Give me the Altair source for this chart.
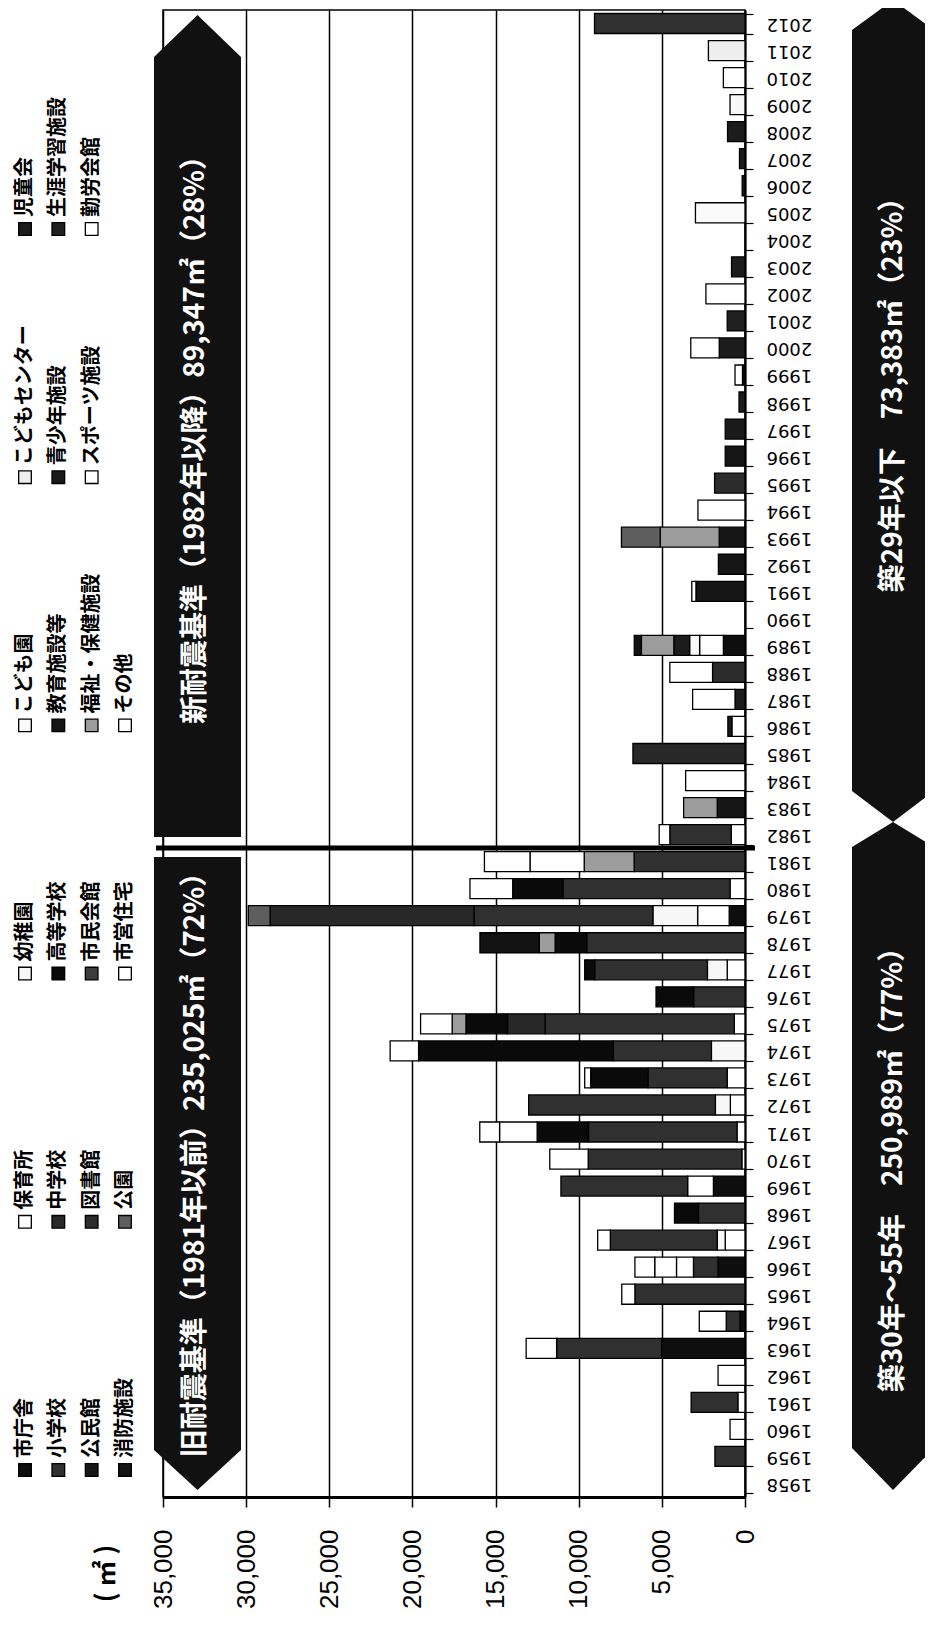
import altair as alt
import pandas as pd

# ---------------- data ----------------
years = list(range(1958, 2013))

categories = ["市庁舎", "保育所", "幼稚園", "こども園", "こどもセンター", "児童会",
              "小学校", "中学校", "高等学校", "教育施設等", "青少年施設", "生涯学習施設",
              "公民館", "図書館", "市民会館", "福祉・保健施設", "スポーツ施設", "勤労会館",
              "消防施設", "公園", "市営住宅", "その他"]
colors = ["#0e0e0e", "#ffffff", "#f7f7f7", "#fafafa", "#eeeeee", "#1c1c1c",
          "#303030", "#282828", "#0a0a0a", "#151515", "#1a1a1a", "#202020",
          "#161616", "#2c2c2c", "#3c3c3c", "#9c9c9c", "#ffffff", "#ffffff",
          "#121212", "#5e5e5e", "#ffffff", "#ffffff"]

# floor area (m2) by construction year, per facility type
shichosha = {1963: 5020, 1964: 300, 1966: 1620, 1969: 1900, 1979: 950, 1989: 1300, 1999: 150}
hoikusho = {1960: 900, 1961: 430, 1962: 1620, 1967: 1190, 1969: 1550, 1970: 190, 1971: 480,
            1972: 880, 1973: 1070, 1975: 640, 1977: 1070, 1979: 1900, 1980: 900, 1982: 830,
            1986: 790, 1989: 1430, 1999: 450, 2002: 2350, 2010: 1300}
yochien = {1967: 480, 1972: 900, 1974: 2020, 1977: 1190, 1979: 2690, 2009: 900}
kodomoen = {1989: 600, 2005: 2980}
kodomo_center = {2011: 2200}
jidokai = {1986: 240, 1987: 600, 1989: 950, 1998: 360, 2000: 1550, 2003: 810, 2007: 330, 2008: 1050}
shogakko = {1959: 1810, 1961: 2810, 1963: 6310, 1964: 830, 1965: 6620, 1966: 1480, 1967: 6430,
            1968: 2800, 1969: 7620, 1970: 9240, 1971: 8930, 1972: 11230, 1973: 4760, 1974: 5900,
            1975: 11380, 1976: 3090, 1977: 6780, 1978: 9520, 1979: 10760, 1980: 10050,
            1981: 6670, 1982: 3690, 2012: 9050}
chugakko = {1975: 2260, 1979: 12260, 1985: 6740}
kotogakko = {1968: 1440, 1971: 3090, 1973: 3450, 1974: 11710, 1975: 2500, 1976: 2260,
             1977: 600, 1978: 1900, 1980: 3020}
kyoiku = {1992: 1600}
seishonen = {1997: 1190}
shogai = {2001: 1070}
kominkan = {1983: 1670, 1991: 2950, 1993: 1550, 1996: 1190, 2006: 170}
toshokan = {1988: 1950, 1995: 1830}
shimin_kaikan = {}
fukushi = {1975: 830, 1978: 950, 1981: 3000, 1983: 2020, 1989: 1950, 1993: 3550}
sports = {1966: 1020, 1981: 3260, 1987: 2550, 1988: 2570, 1994: 2830, 2000: 1710}
kinro = {1981: 2740, 1984: 3570}
shobo = {1978: 3570, 1989: 430}
koen = {1979: 1310, 1993: 2330}
shiei = {1963: 1830, 1964: 1620, 1965: 790, 1966: 1310, 1967: 760, 1970: 2310, 1971: 2260,
         1973: 360, 1974: 1710, 1975: 1900, 1980: 2570, 1982: 640}
sonota = {1966: 1190, 1971: 1190, 1991: 250}

series = [shichosha, hoikusho, yochien, kodomoen, kodomo_center, jidokai,
          shogakko, chugakko, kotogakko, kyoiku, seishonen, shogai,
          kominkan, toshokan, shimin_kaikan, fukushi, sports, kinro,
          shobo, koen, shiei, sonota]

x_ticks = [0, 5000, 10000, 15000, 20000, 25000, 30000, 35000]

# legend layout (columns of the rotated legend, each with up to 4 rows)
legend_columns = [
    ["市庁舎", "小学校", "公民館", "消防施設"],
    ["保育所", "中学校", "図書館", "公園"],
    ["幼稚園", "高等学校", "市民会館", "市営住宅"],
    ["こども園", "教育施設等", "福祉・保健施設", "その他"],
    ["こどもセンター", "青少年施設", "スポーツ施設"],
    ["児童会", "生涯学習施設", "勤労会館"],
]

banner_texts = ["新耐震基準（1982年以降）89,347㎡（28%）",
                "旧耐震基準（1981年以前）235,025㎡（72%）",
                "築29年以下　73,383㎡（23%）",
                "築30年～55年　250,989㎡（77%）"]

# ---------------- tables ----------------
rows = []
for ci, (cat, vals) in enumerate(zip(categories, series)):
    for yr, v in vals.items():
        rows.append({"year": yr, "cat": cat, "ci": ci, "value": v})
df = pd.DataFrame(rows)

leg_rows = []
for c, names in enumerate(legend_columns):
    for r, n in enumerate(names):
        leg_rows.append({"name": n, "lrow": r, "lcol": c})
leg_df = pd.DataFrame(leg_rows)

W, H = 582, 1487
JP = "Noto Sans CJK JP"

color_scale = alt.Scale(domain=categories, range=colors)

bars = alt.Chart(df).mark_bar(stroke="black", strokeWidth=1.3).encode(
    y=alt.Y("year:O",
            scale=alt.Scale(domain=years[::-1], paddingInner=0.26, paddingOuter=0.13),
            axis=alt.Axis(orient="right", title=None, labelAngle=180, labelAlign="right",
                          labelBaseline="middle", labelPadding=13, tickSize=8,
                          tickBand="extent", tickColor="black", tickWidth=1.2,
                          domainColor="black", domainWidth=2, labelFont="DejaVu Sans",
                          labelFontSize=18, labelColor="black", labelOverlap=False,
                          grid=False)),
    x=alt.X("value:Q", stack="zero",
            scale=alt.Scale(domain=[0, 35000], reverse=True, nice=False),
            axis=alt.Axis(values=x_ticks, labelExpr="format(datum.value, ',')",
                          orient="bottom",
                          labelAngle=270, labelAlign="right", labelBaseline="middle",
                          labelPadding=22, tickSize=10, tickColor="black", tickWidth=1.5,
                          domainColor="black", domainWidth=3, grid=True,
                          gridColor="black", gridWidth=1.5, gridOpacity=1,
                          labelFont="Liberation Sans", labelFontSize=26,
                          labelColor="black", labelFlush=False, labelOverlap=False,
                          labelBound=False,
                          title="( ㎡ )", titleAngle=270, titleX=-57, titleY=76,
                          titleAlign="center", titleBaseline="middle", titleFont=JP,
                          titleFontSize=26, titleFontWeight="bold", titleColor="black")),
    color=alt.Color("cat:N", scale=color_scale, legend=None),
    order=alt.Order("ci:Q", sort="ascending"),
)

leg_x = alt.X("lrow:Q", scale=alt.Scale(domain=[0, 3], range=[-138, -38]), axis=None)
leg_y = alt.Y("lcol:Q", scale=alt.Scale(domain=[0, 5], range=[1460, 219]), axis=None)

leg_sq = alt.Chart(leg_df).mark_square(size=160, stroke="black", strokeWidth=1.3,
                                       filled=True, opacity=1).encode(
    x=leg_x, y=leg_y,
    fill=alt.Fill("name:N", scale=color_scale, legend=None),
)
leg_txt = alt.Chart(leg_df).mark_text(angle=270, align="left", baseline="middle", dx=12,
                                      font=JP, fontSize=20, fontWeight="bold",
                                      color="black").encode(
    x=leg_x, y=leg_y, text="name:N",
)

one = pd.DataFrame({"k": [0]})


def banner(path, size, cx, cy):
    return alt.Chart(one).mark_point(shape=path, size=size, filled=True, opacity=1,
                                     color="#111111", strokeWidth=0).encode(
        x=alt.value(cx), y=alt.value(cy))


def btext(txt, cx, cy):
    return alt.Chart(pd.DataFrame({"t": [txt]})).mark_text(
        angle=270, align="center", baseline="middle", font=JP, fontSize=28,
        fontWeight="bold", color="white").encode(
        x=alt.value(cx), y=alt.value(cy), text="t:N")


b_new = banner("M0,-9.448L1,-8.483L1,9.448L-1,9.448L-1,-8.483Z", 7569, 34.5, 416)
b_old = banner("M-1,-7.276L1,-7.276L1,6.356L0,7.276L-1,6.356Z", 7569, 34.5, 1163.5)
b_r1 = banner("M0,-10.024L1,-9.293L1,9.268L0,10.024L-1,9.268L-1,-9.293Z", 6724, 730, 401)
b_r2 = banner("M0,-8.146L1,-7.536L1,7.122L0,8.146L-1,7.122L-1,-7.536Z", 6724, 730, 1146)

t_new = btext(banner_texts[0], 33, 423)
t_old = btext(banner_texts[1], 33, 1148)
t_r1 = btext(banner_texts[2], 731, 378)
t_r2 = btext(banner_texts[3], 731, 1153)

divider = alt.Chart(one).mark_rule(color="black", strokeWidth=5).encode(
    x=alt.value(-7), x2=alt.value(592), y=alt.value(838))

chart = alt.layer(
    bars, divider, b_new, b_old, b_r1, b_r2, t_new, t_old, t_r1, t_r2, leg_sq, leg_txt
).resolve_scale(
    x="independent", y="independent", color="independent", fill="independent"
).properties(
    width=W, height=H,
    autosize=alt.AutoSizeParams(type="none"),
    padding={"left": 155, "top": 2, "right": 180, "bottom": 116},
    background="white",
).configure_view(stroke="black", strokeWidth=1.5)

chart.save("out.html", embed_options={"renderer": "svg", "actions": False})
